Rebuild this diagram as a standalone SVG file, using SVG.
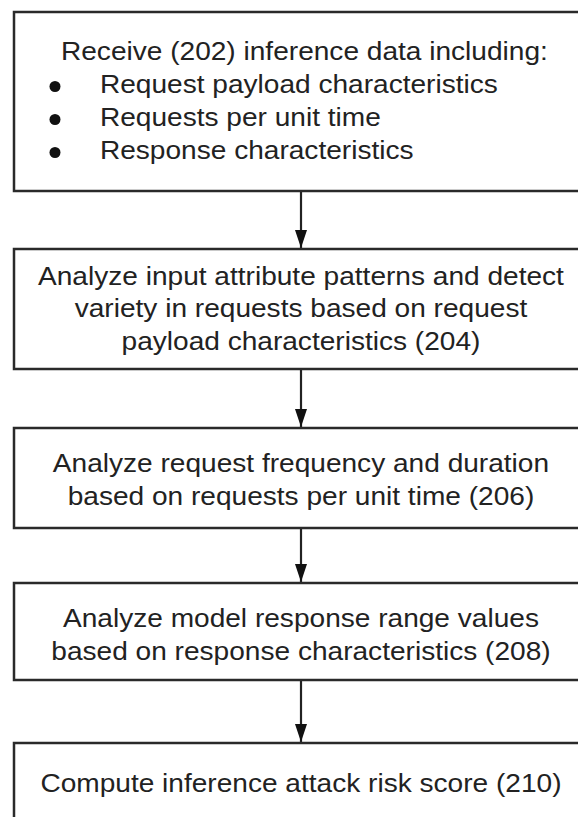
<svg xmlns="http://www.w3.org/2000/svg" width="578" height="817" viewBox="0 0 578 817">
<style>
.box{fill:#fff;stroke:#2a2a2a;stroke-width:2.5}
.t{font-family:"Liberation Sans",Arial,sans-serif;font-size:25px;fill:#222}
.c{text-anchor:middle}
.conn{stroke:#222;stroke-width:2.2;fill:none}
</style>
<defs>
<marker id="ah" markerWidth="18" markerHeight="12" refX="18" refY="6" orient="auto" markerUnits="userSpaceOnUse" viewBox="0 0 18 12">
<path d="M0,0 L18,6 L0,12 Z" fill="#111"/>
</marker>
</defs>
<rect width="578" height="817" fill="#fff"/>
<g id="connectors">
<line class="conn" x1="301" y1="191" x2="301" y2="248" marker-end="url(#ah)"/>
<line class="conn" x1="301" y1="369" x2="301" y2="427" marker-end="url(#ah)"/>
<line class="conn" x1="301" y1="528" x2="301" y2="582" marker-end="url(#ah)"/>
<line class="conn" x1="301" y1="680" x2="301" y2="742" marker-end="url(#ah)"/>
</g>
<g id="n202">
<rect class="box" x="14" y="12" width="574" height="179"/>
<circle cx="55" cy="86.5" r="5.5" fill="#111"/>
<circle cx="55" cy="119.5" r="5.5" fill="#111"/>
<circle cx="55" cy="152.5" r="5.5" fill="#111"/>
<g transform="matrix(1.123 0 0 1 0 0)">
<text class="t" x="54.3" y="60">Receive (202) inference data including:</text>
<text class="t" x="89" y="93">Request payload characteristics</text>
<text class="t" x="89" y="126">Requests per unit time</text>
<text class="t" x="89" y="159">Response characteristics</text>
</g>
</g>
<g id="n204">
<rect class="box" x="14" y="249" width="574" height="120"/>
<g transform="matrix(1.123 0 0 1 0 0)">
<text class="t c" x="268" y="285">Analyze input attribute patterns and detect</text>
<text class="t c" x="268" y="317.5">variety in requests based on request</text>
<text class="t c" x="268" y="350">payload characteristics (204)</text>
</g>
</g>
<g id="n206">
<rect class="box" x="14" y="428" width="574" height="100"/>
<g transform="matrix(1.123 0 0 1 0 0)">
<text class="t c" x="268" y="472">Analyze request frequency and duration</text>
<text class="t c" x="268" y="505">based on requests per unit time (206)</text>
</g>
</g>
<g id="n208">
<rect class="box" x="14" y="583" width="574" height="97"/>
<g transform="matrix(1.123 0 0 1 0 0)">
<text class="t c" x="268" y="627">Analyze model response range values</text>
<text class="t c" x="268" y="660">based on response characteristics (208)</text>
</g>
</g>
<g id="n210">
<rect class="box" x="14" y="743" width="574" height="100"/>
<g transform="matrix(1.123 0 0 1 0 0)">
<text class="t c" x="268" y="792">Compute inference attack risk score (210)</text>
</g>
</g>
</svg>
